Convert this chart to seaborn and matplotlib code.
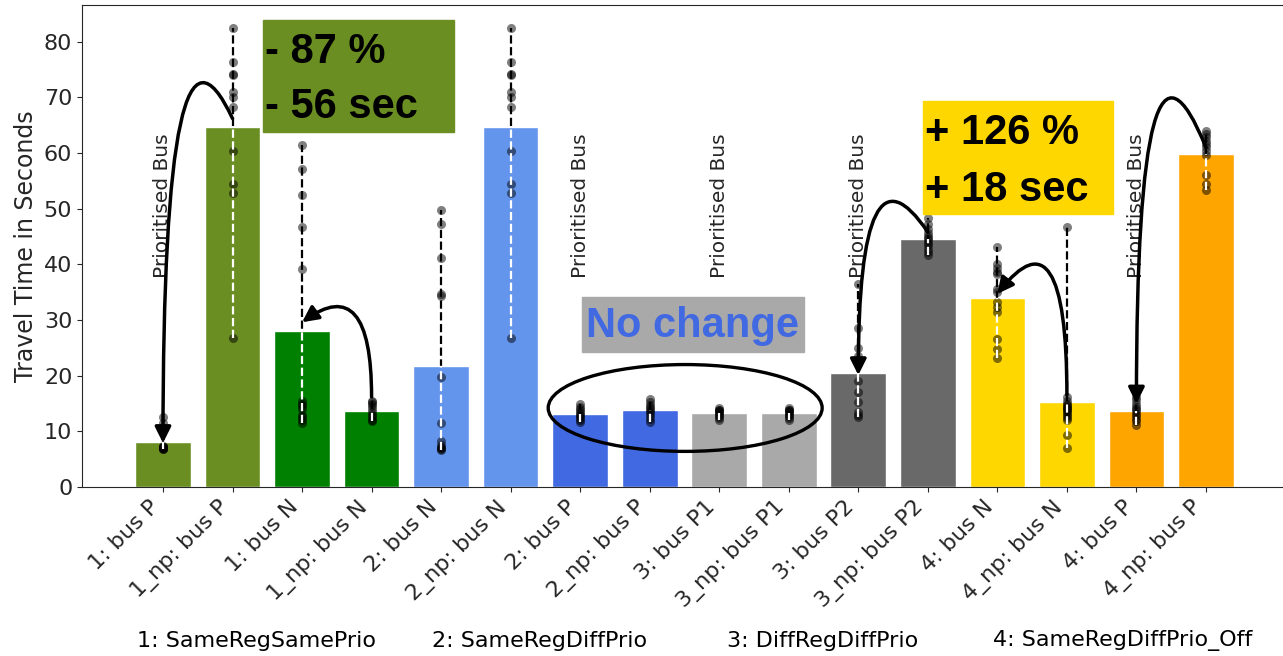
import pandas as pd
import matplotlib.pyplot as plt
import seaborn as sns
from matplotlib.patches import Rectangle, Ellipse

# Categories (scenario: bus) and bar colours
labels = ['1: bus P', '1_np: bus P', '1: bus N', '1_np: bus N',
          '2: bus N', '2_np: bus N', '2: bus P', '2_np: bus P',
          '3: bus P1', '3_np: bus P1', '3: bus P2', '3_np: bus P2',
          '4: bus N', '4_np: bus N', '4: bus P', '4_np: bus P']
bar_colors = ['olivedrab', 'olivedrab', 'green', 'green',
              'cornflowerblue', 'cornflowerblue', 'royalblue', 'royalblue',
              'darkgray', 'darkgray', 'dimgray', 'dimgray',
              'gold', 'gold', 'orange', 'orange']

# Travel times of the single runs (seconds)
t_1_bus_p = [6.8, 6.9, 7.0, 7.0, 7.0, 7.1, 7.1, 7.2, 7.3, 10.5, 11.5, 12.6]
t_1np_bus_p = [82.5, 76.3, 74.2, 74.0, 70.9, 70.0, 68.3, 60.4, 54.5, 52.8, 26.7]
t_1_bus_n = [61.5, 57.2, 52.4, 46.7, 39.2, 11.5, 12.0, 12.5, 13.0, 14.0, 14.5, 15.0, 15.5]
t_1np_bus_n = [11.8, 12.0, 12.5, 13.0, 13.5, 14.0, 14.5, 15.0, 15.3, 15.5]
t_2_bus_n = [49.8, 47.3, 41.2, 34.6, 34.3, 19.8, 11.5, 6.6, 6.8, 7.0, 7.2, 7.6, 8.2]
t_2np_bus_n = [82.5, 76.3, 74.2, 74.0, 70.9, 70.0, 68.3, 60.4, 54.5, 52.8, 26.7]
t_2_bus_p = [11.6, 12.0, 12.4, 12.8, 13.0, 13.3, 13.6, 14.0, 14.4, 14.9]
t_2np_bus_p = [11.7, 12.2, 12.8, 13.3, 13.7, 14.0, 14.4, 14.8, 15.3, 15.8]
t_3_bus_p1 = [12.0, 12.4, 12.8, 13.0, 13.2, 13.4, 13.6, 13.8, 13.9, 14.2]
t_3np_bus_p1 = [12.0, 12.4, 12.8, 13.0, 13.2, 13.4, 13.6, 13.8, 13.9, 14.2]
t_3_bus_p2 = [36.4, 28.6, 25.0, 23.5, 22.2, 19.0, 17.0, 15.2, 13.5, 12.6, 13.0]
t_3np_bus_p2 = [41.6, 42.2, 42.8, 43.4, 43.9, 44.3, 44.7, 45.1, 45.6, 46.4, 47.3, 48.4]
t_4_bus_n = [43.1, 40.0, 39.4, 38.6, 38.3, 35.6, 35.0, 33.2, 32.3, 31.4, 26.6, 24.8, 23.2]
t_4np_bus_n = [46.8, 9.4, 7.0, 12.0, 12.4, 12.8, 13.2, 13.5, 13.8, 14.0, 14.2, 14.4,
               14.7, 15.0, 15.5, 16.2]
t_4_bus_p = [11.2, 11.8, 12.3, 12.8, 13.2, 13.6, 14.0, 14.4, 15.0, 15.6, 16.2]
t_4np_bus_p = [64.0, 63.4, 62.8, 62.2, 61.6, 61.0, 60.4, 59.6, 56.0, 54.5, 53.4]

travel_times = [t_1_bus_p, t_1np_bus_p, t_1_bus_n, t_1np_bus_n,
                t_2_bus_n, t_2np_bus_n, t_2_bus_p, t_2np_bus_p,
                t_3_bus_p1, t_3np_bus_p1, t_3_bus_p2, t_3np_bus_p2,
                t_4_bus_n, t_4np_bus_n, t_4_bus_p, t_4np_bus_p]

prioritised = ['1: bus P', '2: bus P', '3: bus P1', '3: bus P2', '4: bus P']
scenarios = ['1: SameRegSamePrio', '2: SameRegDiffPrio',
             '3: DiffRegDiffPrio', '4: SameRegDiffPrio_Off']

df = pd.DataFrame([(lab, t) for lab, ts in zip(labels, travel_times) for t in ts],
                  columns=['Run', 'Travel Time'])

sns.set_style('ticks')
plt.rcParams['font.family'] = ['DejaVu Sans']

fig = plt.figure(figsize=(12.83, 6.56), dpi=100)
ax = fig.add_axes([0.0639, 0.2576, 0.9392, 0.7348])

sns.barplot(data=df, x='Run', y='Travel Time', hue='Run', order=labels,
            hue_order=labels, palette=bar_colors, saturation=1, errorbar=None,
            legend=False, ax=ax)

# bar patches by category position
bars = {}
for p in ax.patches:
    bars[int(round(p.get_x() + p.get_width() / 2))] = p

# dashed min-max range line: black outside the bar, white inside
for i, ts in enumerate(travel_times):
    ax.plot([i, i], [min(ts), max(ts)], ls='--', color='black', lw=1.6, zorder=0.5)
    wl, = ax.plot([i, i], [min(ts), max(ts)], ls='--', color='white', lw=1.6, zorder=2.5)
    wl.set_clip_path(bars[i])

sns.stripplot(data=df, x='Run', y='Travel Time', order=labels, color='black',
              alpha=0.5, jitter=False, size=6.5, linewidth=0, zorder=2, ax=ax)

for lab in prioritised:
    ax.text(labels.index(lab), 37.5, 'Prioritised Bus', rotation=90, ha='center',
            va='bottom', fontsize=14.5, color='#262626')

ax.set_xlim(-1.165, 16.165)
ax.set_ylim(0, 86.6)
ax.set_yticks(range(0, 81, 10))
ax.set_xlabel('')
ax.set_ylabel('Travel Time in Seconds', fontsize=17)
ax.tick_params(axis='y', labelsize=16)
ax.tick_params(axis='x', labelsize=16)
plt.setp(ax.get_xticklabels(), rotation=45, ha='right')

# annotation boxes
box_font = dict(family='Liberation Sans', weight='bold', fontsize=30)
ax.add_patch(Rectangle((1.44, 63.8), 2.75, 20.1, color='olivedrab', zorder=5))
ax.text(1.47, 78.15, '- 87 %', va='center', ha='left', color='black', zorder=6, **box_font)
ax.text(1.47, 68.3, '- 56 sec', va='center', ha='left', color='black', zorder=6, **box_font)

ax.add_patch(Rectangle((10.93, 49.05), 2.74, 20.3, color='gold', zorder=5))
ax.text(10.96, 63.6, '+ 126 %', va='center', ha='left', color='black', zorder=6, **box_font)
ax.text(10.96, 53.4, '+ 18 sec', va='center', ha='left', color='black', zorder=6, **box_font)

ax.add_patch(Rectangle((6.03, 24.25), 3.19, 9.85, color='darkgray', zorder=5))
ax.text(7.62, 28.9, 'No change', va='center', ha='center', color='royalblue',
        zorder=6, **box_font)

ax.add_patch(Ellipse((7.51, 14.2), 3.94, 15.6, fill=False, ec='black', lw=2.4, zorder=5))

arrows = [((1, 66.2), (0, 7.9), 115, 90),
          ((3, 16.2), (2, 29.6), 90, 36),
          ((11, 45.8), (10, 20.1), 124, 90),
          ((13, 16.5), (12, 34.7), 90, 52),
          ((15, 61.0), (14, 15.0), 112, 90)]
for start, end, a_a, a_b in arrows:
    ax.annotate('', xy=end, xytext=start, zorder=6,
                arrowprops=dict(arrowstyle='-|>', color='black', lw=2.5,
                                mutation_scale=24, shrinkA=0, shrinkB=0,
                                connectionstyle=f'angle3,angleA={a_a},angleB={a_b}'))

for x, s in zip([0.1068, 0.3367, 0.5666, 0.774], scenarios):
    fig.text(x, 0.023, s, ha='left', va='center', fontsize=16, color='black')

fig.savefig('out.png', dpi=100)
